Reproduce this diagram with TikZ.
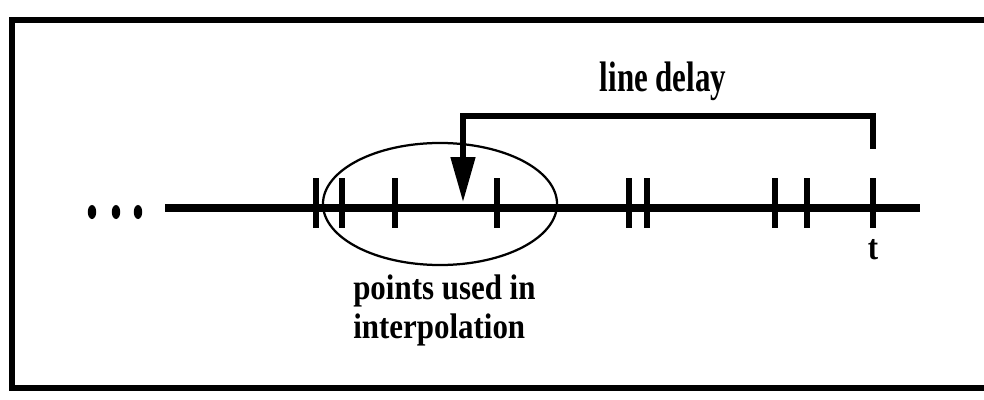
\documentclass[tikz,border=0pt]{standalone}
\usepackage{fontspec}
\setmainfont{Liberation Serif}
\usepackage{tikz}
\usetikzlibrary{arrows.meta, positioning, shapes.geometric}

\begin{document}
\begin{tikzpicture}[
    x=0.025cm, y=-0.025cm,
    label/.style={font=\fontsize{22}{24.2}\selectfont\bfseries, inner sep=0pt, yscale=1.15},
    frame/.style={line width=3.6pt},
    axis/.style={line width=5pt},
    tick/.style={line width=3.6pt},
    delay/.style={line width=3.6pt, -{Triangle[length=32pt, width=17pt]}},
    group/.style={ellipse, draw, line width=1.6pt, minimum width=5.85cm, minimum height=3.05cm, inner sep=0pt},
    dot/.style={ellipse, fill, minimum width=0.21cm, minimum height=0.35cm, inner sep=0pt}
]
\useasboundingbox (0,0) rectangle (984,400);

% Frame (right side runs off the page)
\draw[frame] (1000,20) -- (12,20) -- (12,388) -- (1000,388);

% Time line with leading dots
\node[dot] (d1) at (92,212) {};
\node[dot] (d2) at (116,212) {};
\node[dot] (d3) at (138,212) {};
\coordinate (linestart) at (165,208);
\coordinate (lineend) at (920,208);
\draw[axis] (linestart) -- (lineend);

% Sample points
\foreach \x in {316, 342, 395, 497, 629, 647, 775, 807, 873}
    \draw[tick] (\x,178) -- (\x,228);

\node[label, anchor=base] (tlabel) at (873,259) {t};

% Points used in interpolation
\node[group] (window) at (440,204) {};
\node[label, align=left, anchor=north west] (wlabel) at (353,274) {points used in\\interpolation};

% Line delay
\coordinate (now) at (873,149);
\coordinate (tip) at (463,202);
\draw[delay] (now) -- (873,116) -| (tip);
\node[label, anchor=base, yscale=1.2] (dlabel) at (663,92) {line delay};

\end{tikzpicture}
\end{document}
